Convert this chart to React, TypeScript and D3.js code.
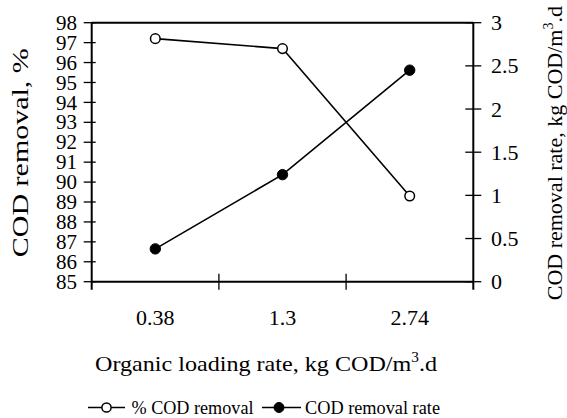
import React from "react";
import * as d3 from "d3";

const categories = ["0.38", "1.3", "2.74"];
const codRemoval = [97.2, 96.7, 89.3];
const codRemovalRate = [0.38, 1.24, 2.45];
const leftTicks = [85, 86, 87, 88, 89, 90, 91, 92, 93, 94, 95, 96, 97, 98];
const rightTicks = [0, 0.5, 1, 1.5, 2, 2.5, 3];
const seriesNames = ["% COD removal", "COD removal rate"];

const W = 567, H = 418;
const L = 91.7, R = 473.3, T = 22.7, B = 281.7;
const FONT = "Liberation Serif";

export default function App() {
  const x = d3.scaleBand<string>().domain(categories).range([L, R]).padding(0);
  const yL = d3.scaleLinear().domain([85, 98]).range([B, T]);
  const yR = d3.scaleLinear().domain([0, 3]).range([B, T]);
  const cx = (c: string) => (x(c) as number) + x.bandwidth() / 2;

  const lineL = d3.line<number>().x((_, i) => cx(categories[i])).y((d) => yL(d));
  const lineR = d3.line<number>().x((_, i) => cx(categories[i])).y((d) => yR(d));

  const boundaries = categories.slice(1).map((c) => x(c) as number);
  const ts = { fontFamily: FONT } as React.CSSProperties;

  return (
    <svg width={W} height={H} style={{ position: "absolute", left: 0, top: 0, background: "#fff", fontFamily: FONT }}>
      <rect x={0} y={0} width={W} height={H} fill="#fff" />
      {/* frame */}
      <line x1={L} x2={R} y1={T} y2={T} stroke="#000" strokeWidth={2} />
      <line x1={L} x2={R} y1={B} y2={B} stroke="#000" strokeWidth={2} />
      <line x1={L} x2={L} y1={T} y2={B + 8} stroke="#000" strokeWidth={2} />
      <line x1={R} x2={R} y1={T} y2={B + 8} stroke="#000" strokeWidth={2} />
      {/* left ticks */}
      {leftTicks.map((t) => (
        <g key={"l" + t}>
          <line x1={L - 8} x2={L + 4} y1={yL(t)} y2={yL(t)} stroke="#000" strokeWidth={1.3} />
          <text style={ts} x={77} y={yL(t)} dy="0.34em" textAnchor="end" fontSize={21}>{t}</text>
        </g>
      ))}
      {/* right ticks */}
      {rightTicks.map((t) => (
        <g key={"r" + t}>
          <line x1={R - 8} x2={R + 8} y1={yR(t)} y2={yR(t)} stroke="#000" strokeWidth={1.3} />
          <text style={ts} x={491} y={yR(t)} dy="0.34em" textAnchor="start" fontSize={22}>{String(t)}</text>
        </g>
      ))}
      {/* bottom ticks */}
      {boundaries.map((b, i) => (
        <line key={"b" + i} x1={b} x2={b} y1={B - 8} y2={B + 8} stroke="#000" strokeWidth={1.3} />
      ))}
      {categories.map((c) => (
        <text style={ts} key={"c" + c} x={cx(c)} y={325} textAnchor="middle" fontSize={22}>{c}</text>
      ))}
      {/* titles */}
      <text style={ts} x={95} y={370.5} fontSize={22} textLength={342} lengthAdjust="spacingAndGlyphs">
        Organic loading rate, kg COD/m<tspan dy={-9} fontSize={14}>3</tspan><tspan dy={9}>.d</tspan>
      </text>
      <text style={ts} transform={`translate(28,${(T + B) / 2 + 105}) rotate(-90)`} fontSize={23} textLength={209} lengthAdjust="spacingAndGlyphs">COD removal, %</text>
      <text style={ts} transform={`translate(561.5,${(T + B) / 2 + 1}) rotate(-90)`} textAnchor="middle" fontSize={22}>
        COD removal rate, kg COD/m<tspan dy={-9} fontSize={14}>3</tspan><tspan dy={9}>.d</tspan>
      </text>
      {/* lines */}
      <path d={lineL(codRemoval) || ""} fill="none" stroke="#000" strokeWidth={1.6} />
      <path d={lineR(codRemovalRate) || ""} fill="none" stroke="#000" strokeWidth={1.6} />
      {codRemoval.map((v, i) => (
        <circle key={"o" + i} cx={cx(categories[i])} cy={yL(v)} r={4.8} fill="#fff" stroke="#000" strokeWidth={1.5} />
      ))}
      {codRemovalRate.map((v, i) => (
        <circle key={"f" + i} cx={cx(categories[i])} cy={yR(v)} r={5.2} fill="#000" stroke="#000" strokeWidth={1} />
      ))}
      {/* legend */}
      <g>
        <line x1={88} x2={125} y1={407.5} y2={407.5} stroke="#000" strokeWidth={1.6} />
        <circle cx={106.5} cy={407.5} r={4.6} fill="#fff" stroke="#000" strokeWidth={1.5} />
        <text style={ts} x={131.5} y={407.5} dy="0.34em" fontSize={18} textLength={122} lengthAdjust="spacingAndGlyphs">{seriesNames[0]}</text>
        <line x1={262} x2={301} y1={407.5} y2={407.5} stroke="#000" strokeWidth={1.6} />
        <circle cx={279} cy={407.5} r={5} fill="#000" stroke="#000" strokeWidth={1} />
        <text style={ts} x={305} y={407.5} dy="0.34em" fontSize={18} textLength={135} lengthAdjust="spacingAndGlyphs">{seriesNames[1]}</text>
      </g>
    </svg>
  );
}
